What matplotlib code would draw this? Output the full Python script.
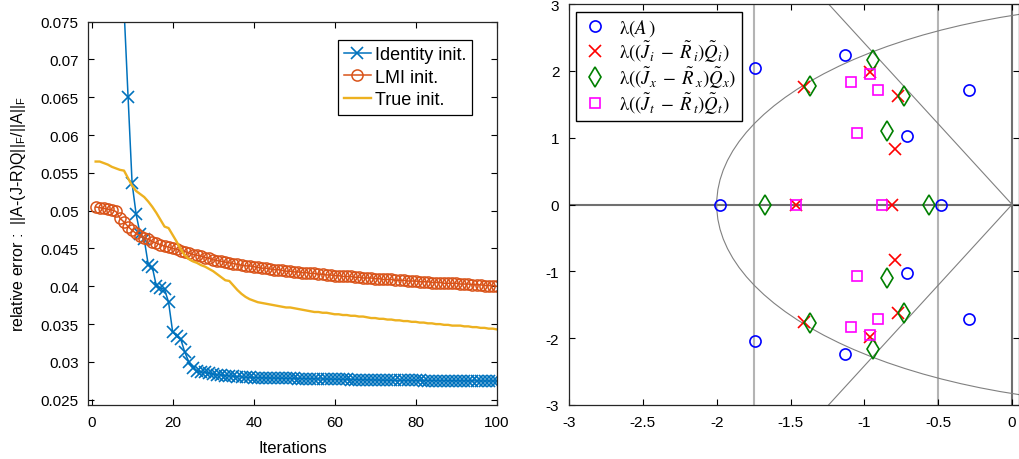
import numpy as np
import matplotlib
matplotlib.use("Agg")
import matplotlib.pyplot as plt
from matplotlib.patches import Circle
from matplotlib.font_manager import FontProperties
from matplotlib.ticker import FuncFormatter

plt.rcParams['font.family'] = ['Liberation Sans', 'DejaVu Sans']
plt.rcParams['mathtext.fontset'] = 'stix'
plt.rcParams['axes.unicode_minus'] = False

# ---- left panel: relative error per iteration ----
iterations = np.arange(1, 101)

err_identity = [
    0.2600, 0.1900, 0.1450, 0.1150, 0.0970, 0.0870, 0.0810, 0.0768, 0.0651, 0.0536,
    0.0495, 0.0469, 0.0462, 0.0428, 0.0425, 0.0400, 0.0398, 0.0396, 0.0379, 0.0340,
    0.0334, 0.0330, 0.0313, 0.0300, 0.0292, 0.0288, 0.0287, 0.0286, 0.0285, 0.0284,
    0.02830, 0.02825, 0.02820, 0.02815, 0.02810, 0.02805, 0.02800, 0.02798, 0.02795, 0.02793,
    0.02790, 0.02789, 0.02788, 0.02787, 0.02786, 0.02785, 0.02784, 0.02783, 0.02782, 0.02781,
    0.02780, 0.02779, 0.02778, 0.02777, 0.02776, 0.02775, 0.02774, 0.02773, 0.02772, 0.02771,
    0.02770, 0.02769, 0.02768, 0.02767, 0.02766, 0.02765, 0.02764, 0.02763, 0.02762, 0.02761,
    0.02760, 0.02759, 0.02758, 0.02757, 0.02757, 0.02756, 0.02756, 0.02755, 0.02755, 0.02754,
    0.02754, 0.02753, 0.02753, 0.02752, 0.02752, 0.02751, 0.02751, 0.02751, 0.02750, 0.02750,
    0.02750, 0.02749, 0.02749, 0.02749, 0.02749, 0.02748, 0.02748, 0.02748, 0.02748, 0.02748,
]

err_lmi = [
    0.0505, 0.0504, 0.0503, 0.0502, 0.0501, 0.0499, 0.0490, 0.0485, 0.0479, 0.0474,
    0.0470, 0.0467, 0.0464, 0.0462, 0.0459, 0.0457, 0.0455, 0.0453, 0.0452, 0.0450,
    0.0449, 0.0447, 0.0446, 0.0444, 0.0442, 0.0441, 0.0440, 0.0438, 0.0437, 0.0435,
    0.0434, 0.0433, 0.0432, 0.0431, 0.0430, 0.0429, 0.0428, 0.0427, 0.0427, 0.0426,
    0.0425, 0.0424, 0.0424, 0.0423, 0.0422, 0.0422, 0.0421, 0.0420, 0.0420, 0.0419,
    0.0419, 0.0418, 0.0418, 0.0417, 0.0417, 0.0416, 0.0416, 0.0415, 0.0415, 0.0414,
    0.0414, 0.0413, 0.0413, 0.0413, 0.0412, 0.0412, 0.0411, 0.0411, 0.0411, 0.0410,
    0.0410, 0.0409, 0.0409, 0.0409, 0.0408, 0.0408, 0.0408, 0.0407, 0.0407, 0.0407,
    0.0406, 0.0406, 0.0406, 0.0405, 0.0405, 0.0405, 0.0404, 0.0404, 0.0404, 0.0404,
    0.0403, 0.0403, 0.0403, 0.0402, 0.0402, 0.0402, 0.0401, 0.0401, 0.0401, 0.0400,
]

err_true = [
    0.0565, 0.0565, 0.0563, 0.0561, 0.0558, 0.0556, 0.0554, 0.0553, 0.0543, 0.0533,
    0.0526, 0.0522, 0.0518, 0.0512, 0.0505, 0.0497, 0.0488, 0.0479, 0.0477, 0.0468,
    0.0459, 0.0449, 0.0441, 0.0436, 0.0433, 0.0431, 0.0428, 0.0426, 0.0423, 0.0420,
    0.0416, 0.0412, 0.0408, 0.0407, 0.0401, 0.0395, 0.0390, 0.0386, 0.0383, 0.0381,
    0.0379, 0.0378, 0.0377, 0.0376, 0.0375, 0.0374, 0.0373, 0.0372, 0.0372, 0.0371,
    0.0370, 0.0369, 0.0368, 0.0367, 0.0366, 0.0366, 0.0365, 0.0365, 0.0364, 0.0363,
    0.0363, 0.0362, 0.0362, 0.0361, 0.0361, 0.0360, 0.0360, 0.0359, 0.0358, 0.0358,
    0.0357, 0.0357, 0.0356, 0.0356, 0.0355, 0.0355, 0.0354, 0.0354, 0.0353, 0.0353,
    0.0352, 0.0352, 0.0351, 0.0351, 0.0350, 0.0350, 0.0349, 0.0349, 0.0348, 0.0348,
    0.0348, 0.0347, 0.0347, 0.0346, 0.0346, 0.0345, 0.0345, 0.0344, 0.0344, 0.0343,
]

left_labels = ['Identity init.', 'LMI init.', 'True init.']
left_xticks = [0, 20, 40, 60, 80, 100]
left_yticks = [0.025, 0.03, 0.035, 0.04, 0.045, 0.05, 0.055, 0.06, 0.065, 0.07, 0.075]

# ---- right panel: eigenvalues ----
eig_A = [(-1.98, 0), (-0.48, 0), (-1.74, 2.04), (-1.74, -2.04), (-1.13, 2.23), (-1.13, -2.23),
         (-0.71, 1.03), (-0.71, -1.03), (-0.29, 1.72), (-0.29, -1.72)]
eig_i = [(-1.46, 0), (-0.81, 0), (-1.41, 1.76), (-1.41, -1.76), (-0.96, 1.99), (-0.96, -1.99),
         (-0.77, 1.62), (-0.77, -1.62), (-0.79, 0.83), (-0.79, -0.83)]
eig_x = [(-1.67, 0), (-0.56, 0), (-1.37, 1.77), (-1.37, -1.77), (-0.94, 2.16), (-0.94, -2.16),
         (-0.73, 1.63), (-0.73, -1.63), (-0.85, 1.10), (-0.85, -1.10)]
eig_t = [(-1.46, 0), (-0.88, 0), (-1.09, 1.83), (-1.09, -1.83), (-0.96, 1.96), (-0.96, -1.96),
         (-0.91, 1.72), (-0.91, -1.72), (-1.05, 1.07), (-1.05, -1.07)]
right_labels = [r'λ$(A\,)$',
                r'λ$((\tilde{J}_i\;-\;\tilde{R}_{\,i})\tilde{Q}_i)$',
                r'λ$((\tilde{J}_x\;-\;\tilde{R}_{\,x})\tilde{Q}_x)$',
                r'λ$((\tilde{J}_t\;-\;\tilde{R}_{\,t})\tilde{Q}_t)$']
right_xticks = [-3, -2.5, -2, -1.5, -1, -0.5, 0]
right_yticks = [-3, -2, -1, 0, 1, 2, 3]

# LMI region: vertical strip, disk, sector
strip_left, strip_right = -1.75, -0.5
disk_center, disk_radius = 1.0, 3.0
sector_angle = 3 * np.pi / 8

fig = plt.figure(figsize=(10.19, 4.6), dpi=100)
ax1 = fig.add_axes([0.0867, 0.1174, 0.4008, 0.8333])
ax2 = fig.add_axes([0.5584, 0.1174, 0.4416, 0.8717])

ax1.plot(iterations, err_identity, '-x', color='#0072BD', lw=1.1, ms=9, mew=1.2, label=left_labels[0])
ax1.plot(iterations, err_lmi, '-o', color='#D95319', lw=1.1, ms=8, mew=1.1, mfc='none', label=left_labels[1])
ax1.plot(iterations, err_true, '-', color='#EDB120', lw=1.7, label=left_labels[2])
ax1.set_xlim(-0.8, 100)
ax1.set_ylim(0.0243, 0.075)
ax1.set_xticks(left_xticks)
ax1.set_yticks(left_yticks)
ax1.yaxis.set_major_formatter(FuncFormatter(lambda v, p: '%g' % v))
ax1.set_xlabel('Iterations', fontsize=12, labelpad=8)
ax1.set_ylabel(r'relative error :  ||A-(J-R)Q||$_{\mathregular{F}}$/||A||$_{\mathregular{F}}$', fontsize=11.5, labelpad=9)
leg1 = ax1.legend(loc='upper right', bbox_to_anchor=(0.94, 0.952), borderaxespad=0, fontsize=13,
                  fancybox=False, edgecolor='black', framealpha=1, handlelength=1.5,
                  handletextpad=0.2, borderpad=0.35, labelspacing=0.3)
leg1.get_frame().set_linewidth(0.9)

# region boundaries
ax2.axvline(strip_left, color='#b4b4b4', lw=1.5, zorder=1)
ax2.axvline(strip_right, color='#b4b4b4', lw=1.5, zorder=1)
ax2.axhline(0, color='#707070', lw=1.5, zorder=1)
ax2.axvline(0, color='#707070', lw=1.5, zorder=1)
ax2.add_patch(Circle((disk_center, 0), disk_radius, fill=False, color='#808080', lw=0.8, zorder=1))
ray_x = np.array([0, -4.0])
ax2.plot(ray_x, -ray_x * np.tan(sector_angle), color='#808080', lw=0.8, zorder=1)
ax2.plot(ray_x, ray_x * np.tan(sector_angle), color='#808080', lw=0.8, zorder=1)

A = np.array(eig_A)
Ei = np.array(eig_i)
Ex = np.array(eig_x)
Et = np.array(eig_t)
ax2.plot(A[:, 0], A[:, 1], 'o', ls='none', color='blue', mfc='none', ms=8, mew=1.2, label=right_labels[0])
ax2.plot(Ei[:, 0], Ei[:, 1], 'x', ls='none', color='red', ms=8, mew=1.2, label=right_labels[1])
ax2.plot(Ex[:, 0], Ex[:, 1], 'd', ls='none', color='green', mfc='none', ms=10, mew=1.2, label=right_labels[2])
ax2.plot(Et[:, 0], Et[:, 1], 's', ls='none', color='magenta', mfc='none', ms=7, mew=1.2, label=right_labels[3])
ax2.set_xlim(-3, 0.047)
ax2.set_ylim(-3, 3)
ax2.set_xticks(right_xticks)
ax2.set_yticks(right_yticks)
ax2.xaxis.set_major_formatter(FuncFormatter(lambda v, p: '%g' % v))
leg_font = FontProperties(family='STIXGeneral', size=13.5, math_fontfamily='stix')
leg2 = ax2.legend(loc='upper left', bbox_to_anchor=(0.0149, 0.981), borderaxespad=0, prop=leg_font,
                  fancybox=False, edgecolor='black', framealpha=1, handlelength=1.5,
                  handletextpad=0.5, borderpad=0.3, labelspacing=0.02)
leg2.get_frame().set_linewidth(1.0)

for ax in (ax1, ax2):
    ax.tick_params(direction='in', top=True, right=True, length=4, width=0.8, labelsize=11, pad=7)
    for s in ax.spines.values():
        s.set_linewidth(0.9)
        s.set_color('#262626')

fig.savefig('out.png', dpi=100)
